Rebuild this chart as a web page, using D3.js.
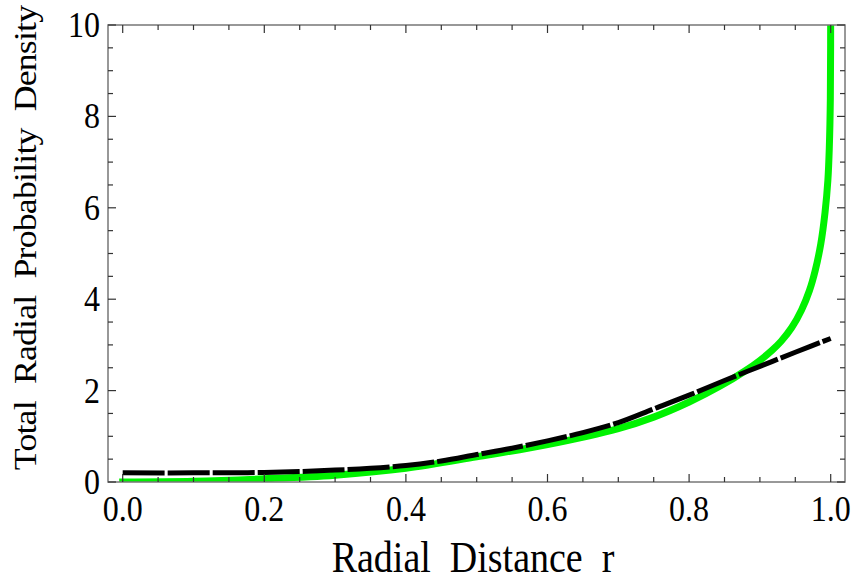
<!DOCTYPE html>
<html><head><meta charset="utf-8">
<script src="https://cdn.jsdelivr.net/npm/d3@7"></script>
<style>
html,body{margin:0;padding:0;background:#fff;}
svg{display:block;}
text{font-family:"Liberation Serif","Times New Roman",serif;fill:#000;}
</style></head>
<body><svg id="c" width="854" height="584"></svg>
<script>
const xTickValues = [0, 0.2, 0.4, 0.6, 0.8, 1.0];
const xTickLabels = ["0.0", "0.2", "0.4", "0.6", "0.8", "1.0"];
const yTickValues = [0, 2, 4, 6, 8, 10];
const yTickLabels = ["0", "2", "4", "6", "8", "10"];
const xTitle = "Radial\u2002Distance\u2002r";
const yTitle = "Total\u2002Radial\u2002Probability\u2002Density";

const greenR = [0, 0.1, 0.2, 0.3, 0.4, 0.5, 0.6, 0.7, 0.75, 0.8, 0.844, 0.88, 0.9, 0.917, 0.93, 0.945, 0.959, 0.97, 0.978, 0.986, 0.992, 0.996, 0.998, 0.9995, 1.0];
const greenV = [0, 0.015, 0.07, 0.15, 0.3, 0.55, 0.82, 1.17, 1.42, 1.75, 2.1, 2.44, 2.66, 2.88, 3.08, 3.38, 3.77, 4.19, 4.62, 5.21, 5.9, 6.6, 7.3, 8.4, 11];
const blackR = [0, 0.1, 0.2, 0.3, 0.4, 0.45, 0.5, 0.55, 0.6, 0.65, 0.7, 0.75, 0.8, 0.85, 0.9, 0.95, 1.0];
const blackV = [0.2, 0.2, 0.21, 0.26, 0.36, 0.46, 0.6, 0.74, 0.9, 1.08, 1.3, 1.6, 1.9, 2.22, 2.53, 2.84, 3.14];

const svg = d3.select("#c");
const frame = {l: 108, r: 845, t: 25, b: 482};
const x = d3.scaleLinear().domain([0, 1]).range([122.7, 830.7]);
const y = d3.scaleLinear().domain([0, 10]).range([482, 25]);

svg.append("defs").append("clipPath").attr("id", "clip")
  .append("rect").attr("x", frame.l).attr("y", frame.t)
  .attr("width", frame.r - frame.l).attr("height", frame.b - frame.t);

const line = d3.line().x(d => x(d[0])).y(d => y(d[1])).curve(d3.curveCatmullRom.alpha(0.5));
const g = svg.append("g").attr("clip-path", "url(#clip)");
g.append("path").datum(greenR.map((r, i) => [r, greenV[i]]))
  .attr("d", line).attr("fill", "none").attr("stroke", "#00f200")
  .attr("stroke-width", 7).attr("stroke-linecap", "square");
g.append("path").datum(blackR.map((r, i) => [r, blackV[i]]))
  .attr("d", line).attr("fill", "none").attr("stroke", "#000")
  .attr("stroke-width", 5).attr("stroke-dasharray", "42,3");

// frame
svg.append("rect").attr("x", frame.l).attr("y", frame.t)
  .attr("width", frame.r - frame.l).attr("height", frame.b - frame.t)
  .attr("fill", "none").attr("stroke", "#777").attr("stroke-width", 1.5);

// ticks
const xMinor = d3.range(0, 1.0001, 0.05);
const yMinor = d3.range(0, 10.001, 0.5);
const tk = svg.append("g").attr("stroke", "#333").attr("stroke-width", 1.2);
xMinor.forEach(v => {
  const major = Math.abs(v * 5 - Math.round(v * 5)) < 1e-6;
  const L = major ? 8 : 5;
  tk.append("line").attr("x1", x(v)).attr("x2", x(v)).attr("y1", frame.b).attr("y2", frame.b - L);
  tk.append("line").attr("x1", x(v)).attr("x2", x(v)).attr("y1", frame.t).attr("y2", frame.t + L);
});
yMinor.forEach(v => {
  const major = Math.abs(v / 2 - Math.round(v / 2)) < 1e-6;
  const L = major ? 8 : 5;
  tk.append("line").attr("y1", y(v)).attr("y2", y(v)).attr("x1", frame.l).attr("x2", frame.l + L);
  tk.append("line").attr("y1", y(v)).attr("y2", y(v)).attr("x1", frame.r).attr("x2", frame.r - L);
});

// tick labels (glyphs slightly taller than wide, as in the reference)
xTickValues.forEach((v, i) => {
  svg.append("text").attr("transform", `translate(${x(v)},521) scale(1,1.1)`)
    .attr("text-anchor", "middle").attr("font-size", 32).text(xTickLabels[i]);
});
yTickValues.forEach((v, i) => {
  svg.append("text").attr("transform", `translate(100,${y(v) + 12}) scale(1,1.1)`)
    .attr("text-anchor", "end").attr("font-size", 32).text(yTickLabels[i]);
});

svg.append("text").attr("transform", "translate(473,572) scale(1,1.15)")
  .attr("text-anchor", "middle").attr("font-size", 38).text(xTitle);
svg.append("text").attr("transform", "translate(36,237.5) rotate(-90) scale(1.1,1)")
  .attr("text-anchor", "middle").attr("font-size", 32.5)
  .attr("textLength", 423).attr("lengthAdjust", "spacing").text(yTitle);
</script></body></html>
